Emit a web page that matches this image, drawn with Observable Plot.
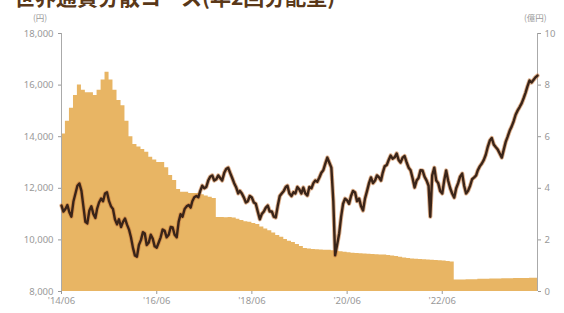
<!DOCTYPE html>
<html><head><meta charset="utf-8">
<script src="https://cdn.jsdelivr.net/npm/d3@7"></script>
<script src="https://cdn.jsdelivr.net/npm/@observablehq/plot@0.6"></script>
<style>
body{margin:0;background:#fff;font-family:"Noto Sans CJK JP","Noto Sans",sans-serif;}
#wrap{position:relative;width:564px;height:313px;overflow:hidden;}
#title{position:absolute;left:14px;top:-18px;font-size:21px;line-height:28px;font-weight:700;color:#5a3818;white-space:nowrap;}
.unit{position:absolute;top:12px;font-size:8.5px;line-height:11px;color:#999;}
</style></head>
<body><div id="wrap"><div id="title">世界通貨分散コース(年2回分配型)</div>
<div class="unit" style="left:33px">(円)</div><div class="unit" style="left:524px">(億円)</div></div>
<script>
const startMonth = "2014-06";
// 基準価額 (円), month starts 2014-06 .. 2024-06
const price = [11330,11200,11060,11500,12100,11900,10700,11140,11000,11200,11600,11800,11500,11200,10600,10500,10830,10400,9700,9350,10000,10250,9900,10050,9700,10100,10350,10200,10480,10100,11000,11200,11350,11500,11700,11900,12000,12300,12500,12350,12400,12600,12800,12400,12030,11900,11640,11500,11640,11400,10800,11100,11330,11100,10870,11700,11900,12100,11700,11800,11950,12030,11720,12000,12300,12420,12700,13190,12800,9400,10250,11400,11530,11700,11840,11600,11140,11900,12420,12300,12420,12600,12900,13270,13200,13100,13190,13000,12700,12030,12400,12690,12300,10900,12800,12200,11800,12690,12000,11640,12200,12570,11800,12100,12420,12700,12960,13300,13850,13700,13500,13190,13800,14240,14600,15020,15300,15700,16180,16200,16370];
// 基準価額 (円), mid-month values
const priceMid = [11100,11350,10900,11800,12190,11300,10640,11300,10850,11450,11500,11850,11300,10800,10800,10700,10600,10100,9400,9800,10300,9800,10200,9750,9900,10400,10100,10500,10200,10700,10900,11300,11250,11650,11650,12100,12050,12450,12300,12500,12300,12750,12600,12200,11800,11800,11450,11700,11450,11100,11000,11250,11100,10900,11300,11800,12050,11800,11850,12050,11800,11800,12050,12200,12250,12600,12950,13000,11500,9800,10900,11600,11400,11900,11500,11300,11600,12200,12200,12500,12300,12850,13100,13150,13350,13000,13250,12800,12400,12300,12700,12450,12100,12500,12300,11900,12300,12300,11800,12000,12450,12100,11900,12350,12500,12850,13100,13600,13950,13600,13350,13500,14000,14400,14850,15150,15500,15950,16100,16300];
// 純資産総額 (億円), monthly
const assets = [6.1,6.6,7.1,7.6,8.0,7.8,7.7,7.7,7.6,7.8,8.2,8.5,8.2,7.8,7.4,7.2,6.6,6.0,5.7,5.6,5.5,5.4,5.2,5.1,5.0,5.0,4.8,4.5,4.3,3.95,3.85,3.85,3.8,3.8,3.8,3.75,3.7,3.65,3.6,2.87,2.87,2.86,2.87,2.85,2.8,2.75,2.7,2.68,2.64,2.6,2.5,2.42,2.35,2.27,2.17,2.1,2.02,1.95,1.9,1.82,1.74,1.67,1.65,1.63,1.62,1.61,1.6,1.6,1.58,1.56,1.54,1.52,1.5,1.48,1.47,1.46,1.45,1.44,1.43,1.42,1.41,1.41,1.4,1.38,1.36,1.33,1.3,1.28,1.26,1.25,1.24,1.23,1.22,1.21,1.2,1.19,1.18,1.16,1.14,0.45,0.45,0.45,0.46,0.46,0.46,0.47,0.47,0.47,0.48,0.48,0.48,0.49,0.49,0.49,0.5,0.5,0.5,0.5,0.51,0.51,0.52];
const leftTicks = [8000,10000,12000,14000,16000,18000];
const rightTicks = [0,2,4,6,8,10];
const xTickLabels = ["'14/06","'16/06","'18/06","'20/06","'22/06"];

const start = d3.utcParse("%Y-%m")(startMonth);
const dates = price.map((_, i) => d3.utcMonth.offset(start, i));
const end = dates[dates.length - 1];
const areaData = dates.map((d, i) => ({date: d, assets: assets[i]}));
const lineData = [];
dates.forEach((d, i) => {
  lineData.push({date: d, price: price[i]});
  if (i < priceMid.length) lineData.push({date: d3.utcDay.offset(d, 15), price: priceMid[i]});
});
const yMin = 8000, yPerOku = 1000; // right axis mapped into left scale
const xTicks = xTickLabels.map((_, i) => d3.utcYear.offset(start, 2 * i));

const chart = Plot.plot({
  width: 564, height: 313,
  marginLeft: 61, marginRight: 27, marginTop: 33, marginBottom: 22,
  style: {fontFamily: "'Noto Sans', sans-serif", fontSize: "9.5px", color: "#999", background: "transparent"},
  x: {type: "utc", domain: [start, end]},
  y: {domain: [8000, 18000]},
  marks: [
    Plot.areaY(areaData, {x: "date", y1: yMin, y2: d => yMin + d.assets * yPerOku, fill: "#e8b564", curve: "step-after"}),
    Plot.ruleX([start, end], {stroke: "#aaa", strokeWidth: 1}),
    Plot.axisY({anchor: "left", ticks: leftTicks, tickFormat: d3.format(","), tickSize: 3, tickPadding: 5, label: null, fill: "#999"}),
    Plot.axisY({anchor: "right", ticks: leftTicks, tickFormat: (d, i) => String(rightTicks[i]), tickSize: 3, tickPadding: 4, label: null, fill: "#999"}),
    Plot.axisX({ticks: xTicks, tickFormat: (d, i) => xTickLabels[i], tickSize: 3, tickPadding: 3, label: null, fill: "#999"}),
    Plot.line(lineData, {x: "date", y: "price", stroke: "#c77a3e", strokeWidth: 4.2, strokeOpacity: 0.6}),
    Plot.line(lineData, {x: "date", y: "price", stroke: "#3a2418", strokeWidth: 2.4})
  ]
});
const wrap = document.getElementById("wrap");
wrap.insertBefore(chart, wrap.firstChild);
</script></body></html>
